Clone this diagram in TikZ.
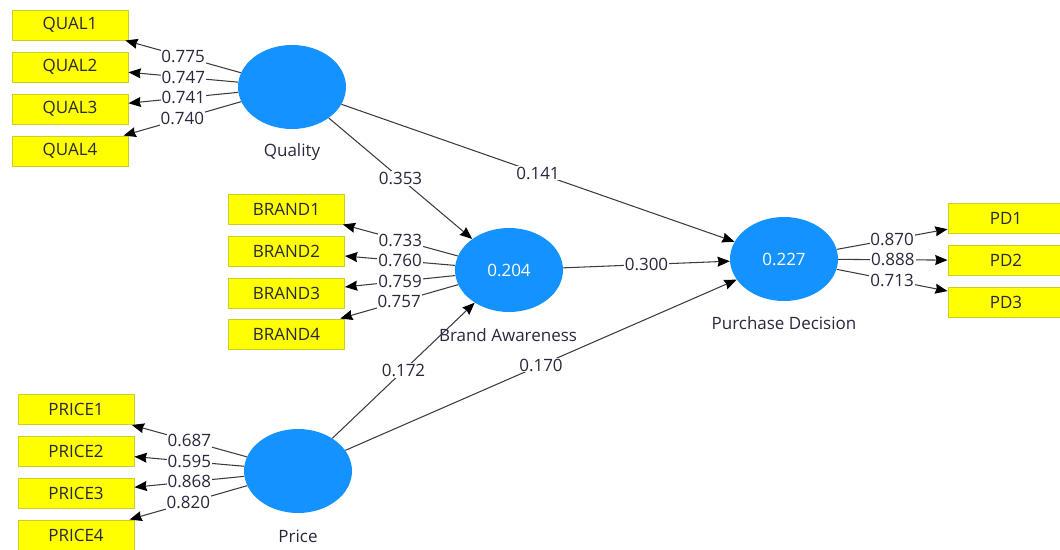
\documentclass[tikz,border=0pt]{standalone}
\usepackage{fontspec}
\setmainfont{Open Sans}
\usetikzlibrary{shapes.geometric,arrows.meta}
\definecolor{lvblue}{RGB}{20,146,255}
\definecolor{indyellow}{RGB}{255,255,0}
\definecolor{indborder}{RGB}{205,205,40}
\definecolor{pathgray}{RGB}{60,60,60}
\definecolor{txtdark}{RGB}{40,40,60}
\begin{document}
\begin{tikzpicture}[x=0.03cm,y=-0.03cm,
  font=\fontsize{14.5}{17}\selectfont,
  latent/.style={ellipse, fill=lvblue, minimum width=3.24cm, minimum height=2.52cm,
                 inner sep=0pt, text=white},
  indicator/.style={rectangle, fill=indyellow, draw=indborder, line width=0.8pt,
                    minimum width=3.48cm, minimum height=0.9cm, inner sep=0pt, text=txtdark},
  link/.style={draw=pathgray, line width=0.9pt,
               -{Stealth[length=10.5pt,width=8.5pt,inset=1pt,color=black]}},
  coef/.style={midway, fill=white, inner sep=0.8pt, text=txtdark},
  lvname/.style={text=txtdark}]
\useasboundingbox (0,0) rectangle (1060,549);

% latent variables
\node[latent] (qual)  at (292,87)  {};
\node[latent] (brand) at (509,270) {0.204};
\node[latent] (price) at (298,471) {};
\node[latent] (pd)    at (784,259) {0.227};

\node[lvname] (qualname)  at (292,152) {Quality};
\node[lvname] (brandname) at (508,335) {Brand Awareness};
\node[lvname] (pricename) at (298,536) {Price};
\node[lvname] (pdname)    at (784,323) {Purchase Decision};

% indicators
\foreach \i/\y in {1/25,2/67,3/109,4/151}
  \node[indicator] (q\i) at (70,\y) {QUAL\i};
\foreach \i/\y in {1/209,2/251,3/293,4/334}
  \node[indicator] (b\i) at (286.5,\y) {BRAND\i};
\foreach \i/\y in {1/409.5,2/451.5,3/493,4/535}
  \node[indicator] (p\i) at (76,\y) {PRICE\i};
\foreach \i/\y in {1/218.5,2/260.5,3/302.5}
  \node[indicator] (d\i) at (1006,\y) {PD\i};

% outer loadings
\foreach \i/\v in {1/0.775,2/0.747,3/0.741,4/0.740}
  \draw[link] (qual) -- node[coef] {\v} (q\i);
\foreach \i/\v in {1/0.733,2/0.760,3/0.759,4/0.757}
  \draw[link] (brand) -- node[coef] {\v} (b\i);
\foreach \i/\v in {1/0.687,2/0.595,3/0.868,4/0.820}
  \draw[link] (price) -- node[coef] {\v} (p\i);
\foreach \i/\v in {1/0.870,2/0.888,3/0.713}
  \draw[link] (pd) -- node[coef] {\v} (d\i);

% path coefficients
\draw[link] (qual)  -- node[coef] {0.353} (brand);
\draw[link] (qual)  -- node[coef] {0.141} (pd);
\draw[link] (brand) -- node[coef] {0.300} (pd);
\draw[link] (price) -- node[coef] {0.172} (brand);
\draw[link] (price) -- node[coef] {0.170} (pd);
\end{tikzpicture}
\end{document}
